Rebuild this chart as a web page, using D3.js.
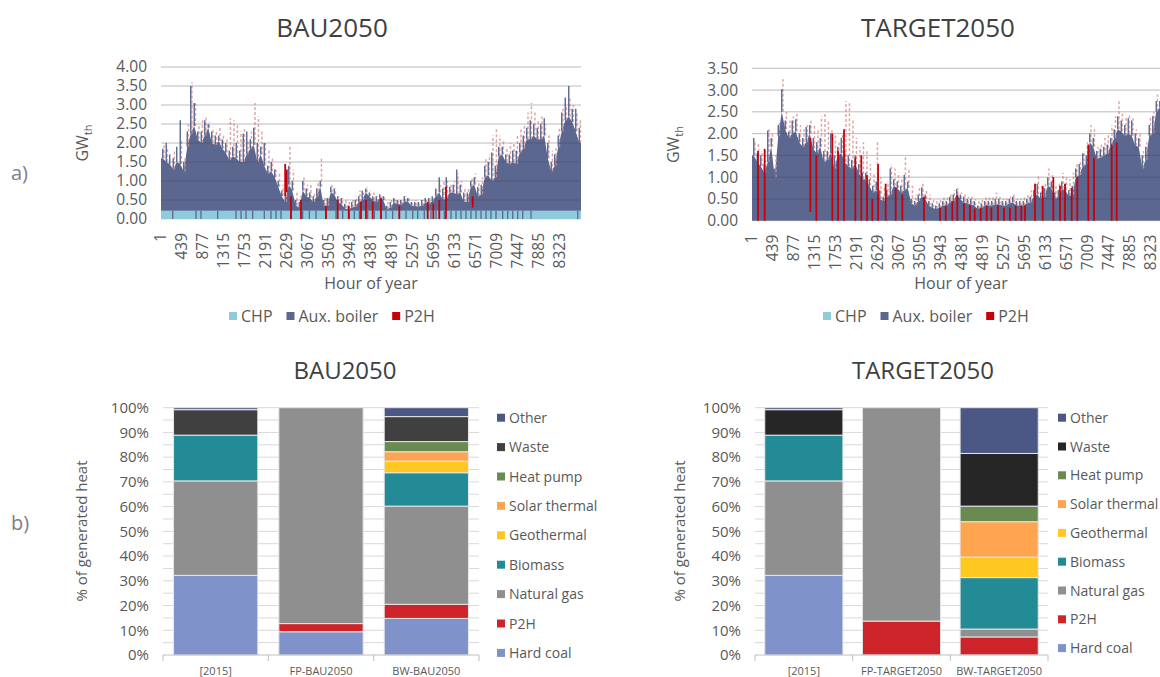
<!DOCTYPE html>
<html>
<head>
<meta charset="utf-8">
<script src="https://cdn.jsdelivr.net/npm/d3@7"></script>
<style>
  body { margin: 0; background: #fff; }
  svg text { font-family: "Open Sans", "Noto Sans", sans-serif; }
</style>
</head>
<body>
<svg id="chart" width="1160" height="677"></svg>
<script>
// ---------- hourly heat generation (one value per 73-hour block) ----------
const HOURS = 8760;
const BLOCK = 73;
const hourTicks = [1, 439, 877, 1315, 1753, 2191, 2629, 3067, 3505, 3943, 4381, 4819, 5257, 5695, 6133, 6571, 7009, 7447, 7885, 8323];
const bauGwTicks = [0, 0.5, 1, 1.5, 2, 2.5, 3, 3.5, 4];
const targetGwTicks = [0, 0.5, 1, 1.5, 2, 2.5, 3, 3.5];

// BAU2050: typical top of CHP + aux. boiler stack per block
const bauLevel = [
  1.6, 1.5, 1.45, 1.3, 1.5, 1.45, 1.25, 1.9, 2.25, 2.45,
  2.1, 2.0, 2.2, 2.4, 2.0, 1.95, 2.05, 1.85, 1.75, 1.55,
  1.65, 1.6, 1.5, 1.5, 1.7, 1.85, 1.95, 1.5, 1.7, 1.4,
  1.2, 1.25, 1.1, 0.85, 0.6, 0.45, 0.9, 0.75, 0.35, 0.3,
  0.75, 0.6, 0.55, 0.45, 0.6, 0.85, 0.35, 0.35, 0.7, 0.65,
  0.45, 0.4, 0.28, 0.25, 0.3, 0.32, 0.45, 0.5, 0.7, 0.6,
  0.5, 0.45, 0.55, 0.5, 0.25, 0.3, 0.43, 0.4, 0.38, 0.45,
  0.47, 0.35, 0.34, 0.33, 0.35, 0.43, 0.4, 0.47, 0.6, 0.7,
  0.5, 0.55, 0.7, 0.7, 0.65, 0.7, 0.45, 0.45, 0.85, 0.9,
  0.6, 0.65, 1.1, 1.15, 1.0, 1.1, 1.65, 1.7, 1.5, 1.45,
  1.5, 1.45, 1.75, 1.85, 2.1, 2.1, 2.2, 2.1, 2.1, 2.2,
  1.6, 1.25, 1.4, 1.9, 2.3, 2.6, 2.7, 2.55, 2.3, 2.0
];
// BAU2050: highest hour in each block
const bauPeak = [
  1.85, 2.0, 1.7, 1.6, 1.9, 2.6, 1.5, 2.3, 3.5, 3.05,
  2.3, 2.3, 2.6, 2.5, 2.3, 2.2, 2.2, 2.1, 2.0, 1.8,
  1.9, 2.0, 1.8, 2.25, 2.3, 2.1, 2.4, 2.0, 1.9, 2.0,
  1.4, 1.5, 1.3, 1.0, 0.75, 0.6, 1.4, 1.0, 0.5, 0.45,
  1.0, 0.8, 0.7, 0.6, 0.8, 1.0, 0.5, 0.55, 0.85, 0.8,
  0.6, 0.55, 0.4, 0.35, 0.45, 0.5, 0.6, 0.75, 0.8, 0.7,
  0.6, 0.6, 0.65, 0.6, 0.35, 0.45, 0.55, 0.5, 0.5, 0.6,
  0.55, 0.45, 0.45, 0.45, 0.5, 0.55, 0.55, 0.6, 0.8, 1.1,
  0.8, 1.1, 0.85, 0.9, 1.3, 0.9, 0.7, 0.7, 1.0, 1.1,
  0.85, 0.9, 1.4, 1.5, 1.75, 1.4, 1.9, 1.9, 1.7, 1.7,
  1.8, 1.8, 2.0, 2.2, 2.4, 2.6, 2.5, 2.4, 2.5, 2.65,
  2.0, 1.5, 1.7, 2.2, 2.8, 3.2, 3.5, 2.9, 2.9, 2.4
];
// BAU2050: top of P2H stacked on the boilers (0 = none)
const bauP2HStackTop = [
  2.0, 1.9, 0, 1.8, 0, 2.1, 1.6, 2.5, 3.6, 3.1,
  2.5, 2.6, 2.7, 2.55, 2.4, 2.3, 2.4, 2.2, 2.1, 2.65,
  2.6, 2.5, 2.3, 2.4, 2.1, 2.3, 3.05, 2.7, 2.3, 2.0,
  1.8, 1.6, 1.3, 1.2, 0.9, 0.7, 1.9, 1.3, 0.7, 0.6,
  1.1, 0.9, 0.9, 0.7, 1.0, 1.6, 0.6, 0.55, 0.9, 0.8,
  0.6, 0.55, 0.5, 0.45, 0.5, 0.6, 0.75, 0.7, 0.85, 0.75,
  0.7, 0.6, 0.6, 0.6, 0.45, 0.5, 0.55, 0.5, 0.5, 0.6,
  0.55, 0.5, 0.5, 0.45, 0.5, 0.5, 0.55, 0.6, 0.75, 0.9,
  1.0, 1.0, 0.9, 1.0, 1.2, 1.0, 0.8, 0.8, 1.1, 1.2,
  1.0, 1.1, 1.6, 1.7, 2.2, 2.4, 2.2, 2.1, 1.9, 2.0,
  2.0, 2.2, 2.4, 2.5, 2.8, 3.05, 2.8, 2.6, 2.7, 2.5,
  2.2, 1.8, 1.9, 2.4, 2.9, 3.0, 3.2, 3.0, 2.8, 2.6
];
const bauCHP = [0.22];
const bauCHPOffHours = [244, 730, 834, 1182, 1564, 1669, 1773, 1912, 2155, 2294, 2399, 2503, 2711, 2955, 3094, 3233, 3441, 3650, 3789, 3928, 4032, 4137, 4311, 4450, 4589, 4693, 4832, 4971, 5110, 5250, 5354, 5492, 5632, 5736, 5805, 5909, 6049, 6153, 6257, 6361, 6466, 6570, 6674, 6779, 6883, 6987, 7127, 7231, 7336, 7440, 7544, 7718, 8692];
const bauP2HHour = [2590, 2625, 2711, 2920, 3441, 3685, 3915, 4171, 4276, 4415, 4589, 4971, 5563, 5680, 5805, 5944, 6501];
const bauP2HLow  = [0.6, 0.7, 0, 0, 0, 0, 0, 0, 0, 0, 0, 0, 0, 0, 0, 0, 0.3];
const bauP2HHigh = [1.45, 1.3, 0.6, 0.5, 0.35, 0.5, 0.35, 0.45, 0.5, 0.45, 0.55, 0.35, 0.45, 0.4, 0.5, 0.85, 0.6];

// TARGET2050
const targetLevel = [
  1.5, 1.35, 1.25, 1.1, 1.35, 1.7, 1.0, 1.95, 2.5, 2.1,
  1.9, 2.0, 2.05, 1.8, 1.7, 1.8, 2.0, 1.65, 1.55, 1.7,
  1.35, 1.4, 1.55, 1.2, 1.5, 1.55, 1.35, 1.25, 1.2, 1.3,
  1.1, 0.95, 0.95, 0.8, 0.65, 0.7, 0.5, 0.45, 0.55, 0.6,
  0.8, 0.75, 0.65, 0.7, 0.75, 0.4, 0.35, 0.45, 0.55, 0.5,
  0.35, 0.3, 0.27, 0.3, 0.35, 0.35, 0.42, 0.45, 0.6, 0.5,
  0.42, 0.4, 0.38, 0.35, 0.27, 0.3, 0.35, 0.35, 0.35, 0.38,
  0.38, 0.35, 0.35, 0.4, 0.42, 0.35, 0.35, 0.35, 0.4, 0.42,
  0.55, 0.6, 0.5, 0.55, 0.8, 0.75, 0.5, 0.55, 0.73, 0.7,
  0.57, 0.6, 1.0, 1.05, 1.25, 1.3, 1.8, 1.7, 1.42, 1.45,
  1.5, 1.55, 1.72, 1.9, 2.1, 2.05, 1.95, 2.0, 1.95, 1.72,
  1.7, 1.2, 1.4, 1.95, 2.0, 2.5, 2.6, 2.55, 2.3, 2.2
];
const targetPeak = [
  1.9, 1.55, 1.5, 1.3, 2.07, 1.9, 1.2, 2.2, 3.02, 2.3,
  2.05, 2.3, 2.33, 2.0, 1.9, 2.15, 2.2, 1.9, 1.8, 1.9,
  1.6, 1.6, 2.0, 1.5, 1.7, 1.9, 1.6, 1.5, 1.4, 1.5,
  1.3, 1.1, 1.1, 0.95, 0.8, 0.9, 0.7, 0.55, 0.7, 1.2,
  0.95, 0.9, 0.8, 1.05, 0.9, 0.5, 0.45, 0.6, 0.77, 0.6,
  0.45, 0.4, 0.35, 0.4, 0.45, 0.45, 0.55, 0.6, 0.73, 0.6,
  0.55, 0.5, 0.5, 0.45, 0.35, 0.4, 0.45, 0.45, 0.45, 0.5,
  0.5, 0.45, 0.45, 0.5, 0.55, 0.45, 0.45, 0.45, 0.5, 0.55,
  0.7, 0.85, 0.65, 0.75, 1.0, 0.9, 0.65, 0.7, 0.9, 0.85,
  0.7, 0.8, 1.2, 1.3, 1.55, 1.5, 2.0, 1.9, 1.6, 1.65,
  1.7, 1.75, 1.9, 2.1, 2.4, 2.3, 2.2, 2.35, 2.3, 2.0,
  1.9, 1.5, 1.7, 2.2, 2.4, 2.75, 2.75, 2.7, 2.6, 2.4
];
const targetP2HStackTop = [
  1.85, 1.8, 1.6, 1.6, 2.1, 2.0, 1.5, 2.3, 3.25, 2.5,
  2.3, 2.4, 2.45, 2.2, 2.1, 2.2, 2.3, 2.2, 2.1, 2.4,
  2.45, 2.3, 2.1, 2.0, 1.8, 2.0, 2.75, 2.7, 2.3, 1.9,
  1.7, 1.8, 1.6, 1.3, 1.1, 1.8, 1.0, 0.8, 0.9, 1.3,
  1.2, 1.1, 1.0, 1.5, 1.2, 0.8, 0.6, 0.8, 0.9, 0.7,
  0.6, 0.5, 0.45, 0.5, 0.55, 0.55, 0.65, 0.7, 0.75, 0.65,
  0.65, 0.55, 0.55, 0.5, 0.45, 0.5, 0.55, 0.55, 0.55, 0.65,
  0.55, 0.5, 0.5, 0.55, 0.6, 0.5, 0.5, 0.55, 0.6, 0.7,
  0.9, 1.05, 0.8, 0.9, 1.2, 1.1, 0.85, 0.85, 1.1, 1.0,
  0.95, 1.1, 1.3, 1.4, 1.6, 1.8, 2.2, 2.1, 1.7, 1.8,
  1.9, 2.0, 2.2, 2.4, 2.75, 2.5, 2.4, 2.45, 2.35, 2.1,
  2.0, 1.6, 1.8, 2.4, 2.5, 2.9, 2.95, 3.15, 2.9, 2.7
];
const targetP2HHour = [125, 264, 1217, 1342, 1676, 1795, 1919, 2155, 2280, 2399, 2510, 2629, 2788, 2997, 3136, 3588, 3921, 4040, 4178, 4282, 4422, 4547, 4645, 4770, 4895, 4992, 5131, 5256, 5381, 5500, 5617, 5694, 5903, 6063, 6285, 6424, 6528, 6668, 6785, 7014, 7133, 7502, 7606];
const targetP2HLow = [0, 0, 0.2, 0, 0, 0, 0, 0, 0, 0, 0, 0, 0, 0, 0, 0, 0, 0, 0, 0, 0, 0, 0, 0, 0, 0, 0, 0, 0, 0, 0, 0, 0, 0, 0, 0, 0, 0, 0, 0, 0, 0, 0];
const targetP2HHigh = [1.6, 1.65, 1.9, 1.5, 2.0, 1.6, 2.1, 1.45, 1.5, 1.05, 0.5, 1.3, 0.85, 0.75, 0.6, 0.55, 0.3, 0.35, 0.45, 0.6, 0.4, 0.35, 0.28, 0.3, 0.35, 0.3, 0.35, 0.3, 0.3, 0.35, 0.35, 0.35, 0.85, 0.8, 1.0, 0.8, 0.85, 0.75, 1.0, 1.75, 1.45, 1.75, 1.8];

const hourlyLegend = ["CHP", "Aux. boiler", "P2H"];

// ---------- annual heat mix, % of generated heat ----------
const mixSeries = ["Hard coal", "P2H", "Natural gas", "Biomass", "Geothermal", "Solar thermal", "Heat pump", "Waste", "Other"];
const percentTicks = [0, 10, 20, 30, 40, 50, 60, 70, 80, 90, 100];

const bauCategories = ["[2015]", "FP-BAU2050", "BW-BAU2050"];
const bauHardCoal     = [32.2, 9.4, 14.8];
const bauP2H          = [0, 3.3, 5.7];
const bauNaturalGas   = [38.2, 87.3, 39.7];
const bauBiomass      = [18.5, 0, 13.5];
const bauGeothermal   = [0, 0, 4.7];
const bauSolarThermal = [0, 0, 3.8];
const bauHeatPump     = [0, 0, 4.1];
const bauWaste        = [10.3, 0, 10.1];
const bauOther        = [0.8, 0, 3.6];

const targetCategories = ["[2015]", "FP-TARGET2050", "BW-TARGET2050"];
const targetHardCoal     = [32.2, 0, 0];
const targetP2H          = [0, 13.7, 7.3];
const targetNaturalGas   = [38.2, 86.3, 3.2];
const targetBiomass      = [18.5, 0, 20.8];
const targetGeothermal   = [0, 0, 8.3];
const targetSolarThermal = [0, 0, 14.3];
const targetHeatPump     = [0, 0, 6.3];
const targetWaste        = [10.3, 0, 21.3];
const targetOther        = [0.8, 0, 18.5];

// ---------- styling ----------
const TEXT = "#595959";
const C_CHP = "#90cbdc", C_AUX = "#5c6790", C_P2H = "#c8000a", C_P2H_SOFT = "#d99a99";
const mixColors = {
  "Hard coal": "#7f93ca", "P2H": "#cc2428", "Natural gas": "#8f8f8f", "Biomass": "#238b96",
  "Geothermal": "#ffc820", "Solar thermal": "#ffa54f", "Heat pump": "#698a50", "Other": "#4b5784"
};

const svg = d3.select("#chart");

function hourlyChart(o) {
  const g = svg.append("g");
  const x = d3.scaleLinear().domain([0, HOURS]).range([o.x0, o.x1]);
  const y = d3.scaleLinear().domain([0, o.ticks[o.ticks.length - 1]]).range([o.yBase, o.yTop]);
  const mid = i => (i + 0.5) * BLOCK;

  g.selectAll(".gridline").data(o.ticks).join("line").attr("class", "gridline")
    .attr("x1", o.x0).attr("x2", o.x1)
    .attr("y1", d => y(d)).attr("y2", d => y(d))
    .attr("stroke", "#d9d9d9").attr("stroke-width", 1);

  const pts = o.level.map((v, i) => [mid(i), v]);
  pts.unshift([0, o.level[0]]);
  pts.push([HOURS, o.level[o.level.length - 1]]);
  g.append("path").datum(pts)
    .attr("fill", C_AUX)
    .attr("d", d3.area().x(d => x(d[0])).y0(y(0)).y1(d => y(d[1])));

  // P2H on top of the boilers (faint)
  g.selectAll(".soft").data(o.stackTop.map((v, i) => ({ i, v })).filter(d => d.v > 0)).join("line").attr("class", "soft")
    .attr("x1", d => x(mid(d.i)) + 1.2).attr("x2", d => x(mid(d.i)) + 1.2)
    .attr("y1", d => y(o.level[d.i])).attr("y2", d => y(d.v))
    .attr("stroke", C_P2H_SOFT).attr("stroke-width", 1.5)
    .attr("stroke-dasharray", "3 2").attr("opacity", 0.85);

  // hourly peaks inside each block
  g.selectAll(".peak").data(o.peak.map((v, i) => ({ i, v }))).join("line").attr("class", "peak")
    .attr("x1", d => x(mid(d.i))).attr("x2", d => x(mid(d.i)))
    .attr("y1", d => y(o.level[d.i])).attr("y2", d => y(d.v))
    .attr("stroke", C_AUX).attr("stroke-width", 1.4);

  if (o.chp) {
    g.append("rect")
      .attr("x", o.x0).attr("width", o.x1 - o.x0)
      .attr("y", y(o.chp[0])).attr("height", y(0) - y(o.chp[0]))
      .attr("fill", C_CHP);
    g.selectAll(".chpoff").data(o.chpOff).join("line").attr("class", "chpoff")
      .attr("x1", d => x(d)).attr("x2", d => x(d))
      .attr("y1", y(0)).attr("y2", y(o.chp[0]))
      .attr("stroke", C_AUX).attr("stroke-width", 1.3);
  }

  g.selectAll(".p2h").data(o.p2hHour.map((h, i) => ({ h, lo: o.p2hLow[i], hi: o.p2hHigh[i] }))).join("line").attr("class", "p2h")
    .attr("x1", d => x(d.h)).attr("x2", d => x(d.h))
    .attr("y1", d => y(d.lo)).attr("y2", d => y(d.hi))
    .attr("stroke", C_P2H).attr("stroke-width", 1.8);

  // gridlines showing through the stack
  g.selectAll(".gridtop").data(o.ticks.filter(t => t > 0)).join("line").attr("class", "gridtop")
    .attr("x1", o.x0).attr("x2", o.x1)
    .attr("y1", d => y(d)).attr("y2", d => y(d))
    .attr("stroke", "#000").attr("stroke-opacity", 0.13);

  const ya = g.append("g").attr("transform", `translate(${o.x0},0)`)
    .call(d3.axisLeft(y).tickValues(o.ticks).tickFormat(d3.format(".2f")).tickSize(0).tickPadding(14));
  ya.select(".domain").remove();
  ya.selectAll("text").attr("fill", TEXT).attr("font-size", 15.5).style("font-family", null);

  g.selectAll(".xl").data(hourTicks).join("text").attr("class", "xl")
    .attr("transform", d => `translate(${x(d - 0.5)},${o.yBase + 14}) rotate(-90)`)
    .attr("text-anchor", "end").attr("dy", "0.35em")
    .attr("font-size", 15.5).attr("fill", TEXT)
    .text(d => d);

  g.append("text").attr("x", (o.x0 + Math.min(o.x1, 1160)) / 2 + o.xTitleShift).attr("y", 289)
    .attr("text-anchor", "middle").attr("font-size", 16).attr("fill", TEXT).text("Hour of year");

  const yl = g.append("text")
    .attr("transform", `translate(${o.yLabelX},${(o.yBase + o.yTop) / 2}) rotate(-90)`)
    .attr("text-anchor", "middle").attr("font-size", 16).attr("fill", TEXT);
  yl.append("tspan").text("GW");
  yl.append("tspan").attr("font-size", 11).attr("dy", 4).text("th");

  g.append("text").attr("x", o.titleX).attr("y", 37).attr("text-anchor", "middle")
    .attr("font-size", 26).attr("fill", "#404040").text(o.title);

  // legend
  const colors = [C_CHP, C_AUX, C_P2H];
  let lx = o.legendX;
  hourlyLegend.forEach((name, i) => {
    g.append("rect").attr("x", lx).attr("y", 312).attr("width", 8).attr("height", 8).attr("fill", colors[i]);
    const t = g.append("text").attr("x", lx + 12).attr("y", 321.5).attr("font-size", 16).attr("fill", TEXT).text(name);
    lx += 12 + t.node().getComputedTextLength() + 14;
  });
}

function mixChart(o) {
  const g = svg.append("g");
  const x = d3.scaleBand().domain(o.categories).range([o.x0, o.x1]).paddingInner(0.2).paddingOuter(0.1);
  const y = d3.scaleLinear().domain([0, 100]).range([655, 407.7]);

  g.selectAll(".gridline").data(d3.range(5, 101, 5)).join("line").attr("class", "gridline")
    .attr("x1", o.x0).attr("x2", o.x1)
    .attr("y1", d => y(d)).attr("y2", d => y(d))
    .attr("stroke", "#d9d9d9");

  const rows = o.categories.map((c, i) => {
    const r = { cat: c };
    mixSeries.forEach((s, k) => { r[s] = o.values[k][i]; });
    return r;
  });
  const stacked = d3.stack().keys(mixSeries)(rows);
  const colorOf = s => (s === "Waste" ? o.wasteColor : mixColors[s]);

  g.selectAll(".layer").data(stacked).join("g").attr("class", "layer")
    .attr("fill", d => colorOf(d.key))
    .selectAll("rect").data(d => d.filter(p => p[1] - p[0] > 0)).join("rect")
    .attr("x", d => x(d.data.cat)).attr("width", x.bandwidth())
    .attr("y", d => y(d[1])).attr("height", d => y(d[0]) - y(d[1]))
    .attr("stroke", "#e6e6e6").attr("stroke-width", 1);

  const ya = g.append("g").attr("transform", `translate(${o.x0},0)`)
    .call(d3.axisLeft(y).tickValues(percentTicks).tickFormat(d => d + "%").tickSize(0).tickPadding(14));
  ya.select(".domain").remove();
  ya.selectAll("text").attr("fill", TEXT).attr("font-size", 15).style("font-family", null);

  // category axis
  g.append("line").attr("x1", o.x0).attr("x2", o.x1).attr("y1", y(0)).attr("y2", y(0))
    .attr("stroke", "#bfbfbf");
  const step = x.step();
  g.selectAll(".catmark").data(d3.range(o.categories.length + 1)).join("line").attr("class", "catmark")
    .attr("x1", k => o.x0 + k * step).attr("x2", k => o.x0 + k * step)
    .attr("y1", y(0)).attr("y2", y(0) + 6).attr("stroke", "#bfbfbf");
  g.selectAll(".cat").data(o.categories).join("text").attr("class", "cat")
    .attr("x", d => x(d) + x.bandwidth() / 2).attr("y", 674.5)
    .attr("text-anchor", "middle").attr("font-size", 11).attr("fill", TEXT).text(d => d);

  g.append("text")
    .attr("transform", `translate(${o.yLabelX},531) rotate(-90)`)
    .attr("text-anchor", "middle").attr("font-size", 15).attr("fill", TEXT).text("% of generated heat");

  g.append("text").attr("x", o.titleX).attr("y", 379).attr("text-anchor", "middle")
    .attr("font-size", 24).attr("fill", "#404040").text(o.title);

  const legendOrder = mixSeries.slice().reverse();
  legendOrder.forEach((s, k) => {
    const cy = 417.7 + k * o.legendStep;
    g.append("rect").attr("x", o.legendX).attr("y", cy - 4).attr("width", 8).attr("height", 8).attr("fill", colorOf(s));
    g.append("text").attr("x", o.legendX + 12).attr("y", cy + 5).attr("font-size", 14).attr("fill", TEXT).text(s);
  });
}

hourlyChart({
  title: "BAU2050", titleX: 332, x0: 161, x1: 581, yBase: 219, yTop: 67,
  ticks: bauGwTicks, level: bauLevel, peak: bauPeak, stackTop: bauP2HStackTop,
  chp: bauCHP, chpOff: bauCHPOffHours,
  p2hHour: bauP2HHour, p2hLow: bauP2HLow, p2hHigh: bauP2HHigh,
  yLabelX: 88, legendX: 229, xTitleShift: 0
});
hourlyChart({
  title: "TARGET2050", titleX: 938, x0: 752, x1: 1172, yBase: 220.7, yTop: 68.3,
  ticks: targetGwTicks, level: targetLevel, peak: targetPeak, stackTop: targetP2HStackTop,
  chp: null, chpOff: [],
  p2hHour: targetP2HHour, p2hLow: targetP2HLow, p2hHigh: targetP2HHigh,
  yLabelX: 679, legendX: 823, xTitleShift: 5
});

mixChart({
  title: "BAU2050", titleX: 345, x0: 163, x1: 479, categories: bauCategories,
  values: [bauHardCoal, bauP2H, bauNaturalGas, bauBiomass, bauGeothermal, bauSolarThermal, bauHeatPump, bauWaste, bauOther],
  wasteColor: "#404040", yLabelX: 87, legendX: 497, legendStep: 29.4
});
mixChart({
  title: "TARGET2050", titleX: 923, x0: 755, x1: 1048, categories: targetCategories,
  values: [targetHardCoal, targetP2H, targetNaturalGas, targetBiomass, targetGeothermal, targetSolarThermal, targetHeatPump, targetWaste, targetOther],
  wasteColor: "#262626", yLabelX: 685, legendX: 1058, legendStep: 28.8
});

// panel markers
svg.append("text").attr("x", 11).attr("y", 180).attr("font-size", 20).attr("fill", "#7f7f7f").text("a)");
svg.append("text").attr("x", 11).attr("y", 530).attr("font-size", 20).attr("fill", "#7f7f7f").text("b)");
</script>
</body>
</html>
